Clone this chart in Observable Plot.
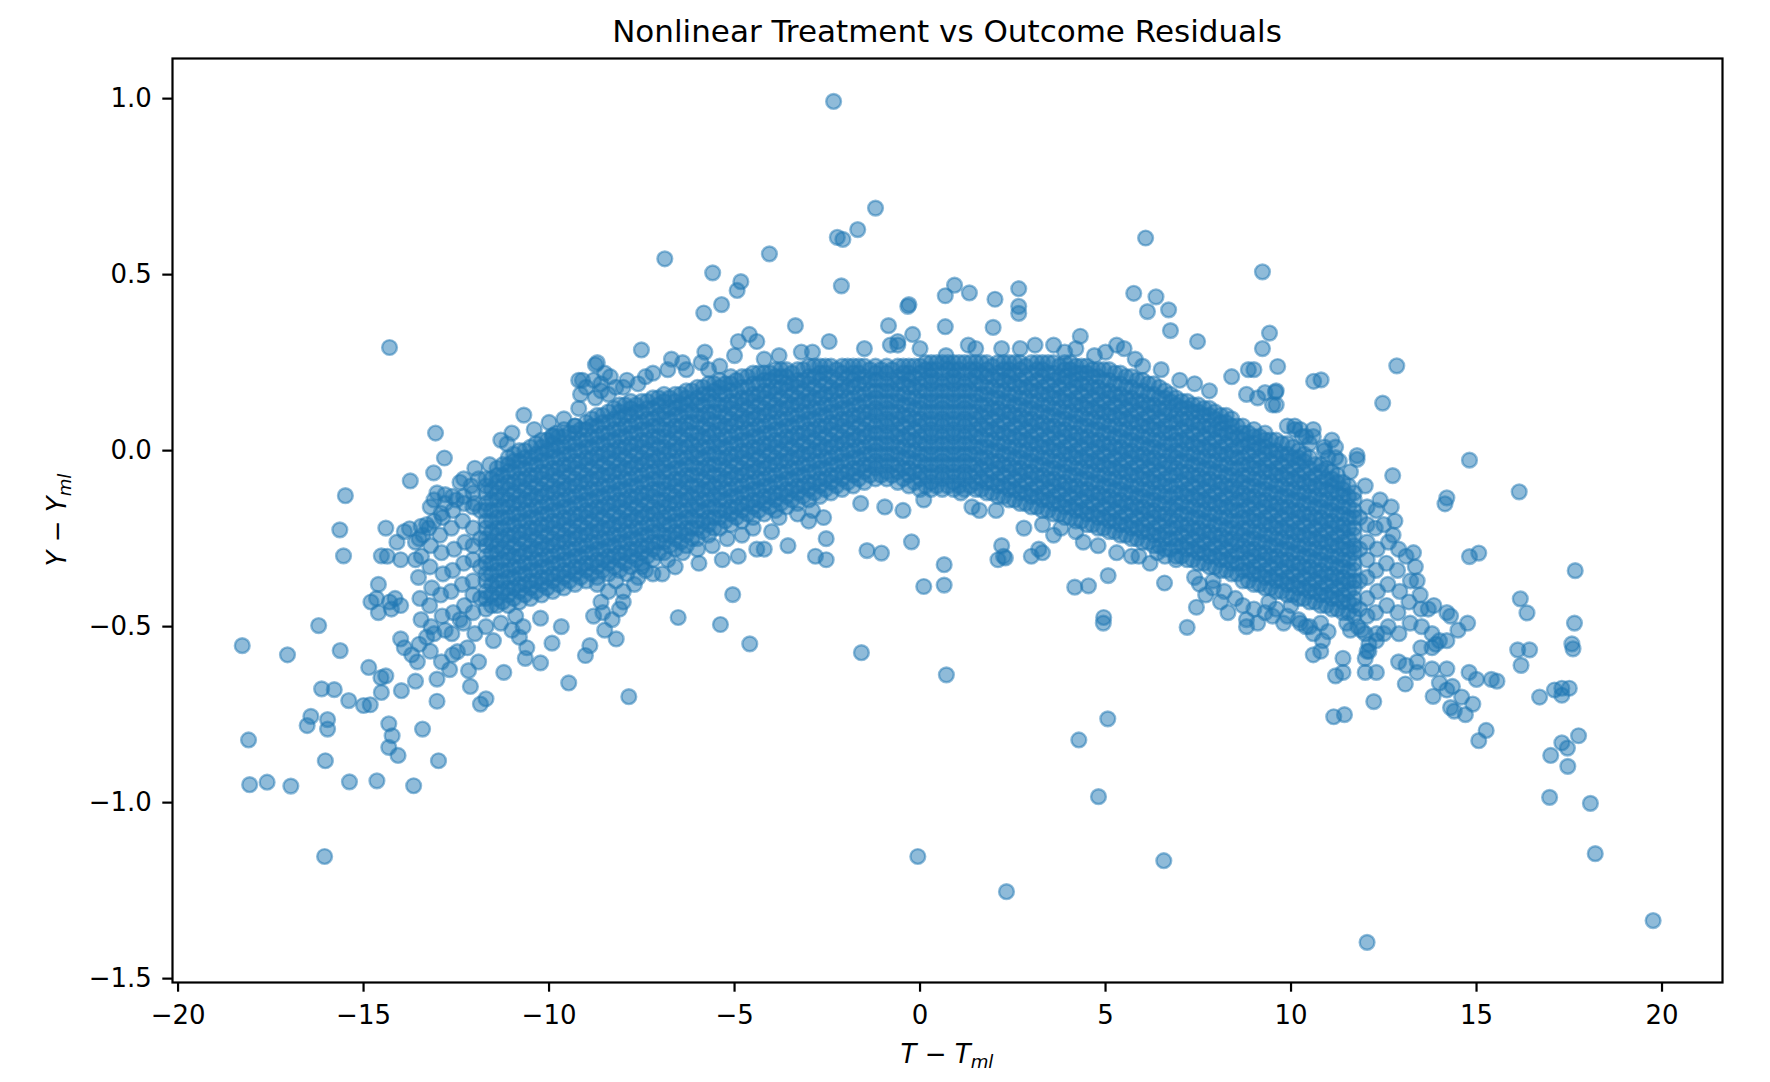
<!DOCTYPE html>
<html lang="en">
<head>
<meta charset="UTF-8">
<title>Nonlinear Treatment vs Outcome Residuals</title>
<style>
  body { margin: 0; background: #ffffff; font-family: 'DejaVu Sans', sans-serif; }
  #figure { position: relative; width: 1770px; height: 1082px; overflow: hidden; }
  #title { position: absolute; left: 172px; width: 1550px; top: 16px; text-align: center; font-size: 31px; line-height: 1; color: #000; }
  #chart { position: absolute; left: 0; top: 56px; }
  .xlabel { position: absolute; left: 172px; width: 1550px; top: 1041px; text-align: center; font-size: 26px; line-height: 1; }
  .ylabel { position: absolute; left: -143px; top: 507px; width: 400px; height: 26px; text-align: center; font-size: 26px; line-height: 26px; transform: rotate(-90deg); }
  .ylabel i, .xlabel i { font-style: italic; }
  .sub { font-size: 0.7em; vertical-align: -0.25em; font-style: italic; }
</style>
</head>
<body>
<div id="figure">
  <div id="title">Nonlinear Treatment vs Outcome Residuals</div>
  <div id="chart"></div>
  <div class="xlabel"><i>T</i> − <i>T</i><span class="sub">ml</span></div>
  <div class="ylabel"><i>Y</i> − <i>Y</i><span class="sub">ml</span></div>
</div>

<script src="https://cdn.jsdelivr.net/npm/d3@7"></script>
<script src="https://cdn.jsdelivr.net/npm/@observablehq/plot@0.6"></script>
<script>
// tick values
const xTicks = [-20, -15, -10, -5, 0, 5, 10, 15, 20];
const yTicks = [-1.5, -1.0, -0.5, 0.0, 0.5, 1.0];

// saturated centre of the cloud, read column by column (y in hundredths)
const coreT = [-12.05, -11.7, -11.4, -11.1, -10.8, -10.5, -10.2, -9.9, -9.6, -9.3, -9.0, -8.7, -8.4, -8.1,
  -7.8, -7.5, -7.2, -6.9, -6.6, -6.3, -6.0, -5.7, -5.4, -5.1, -4.8, -4.5, -4.2, -3.9, -3.6, -3.3, -3.0,
  -2.7, -2.4, -2.1, -1.8, -1.5, -1.2, -0.9, -0.6, -0.3, 0.0, 0.3, 0.6, 0.9, 1.2, 1.5, 1.8, 2.1, 2.4, 2.7,
  3.0, 3.3, 3.6, 3.9, 4.2, 4.5, 4.8, 5.1, 5.4, 5.7, 6.0, 6.3, 6.6, 6.9, 7.2, 7.5, 7.8, 8.1, 8.4, 8.7, 9.0,
  9.3, 9.6, 9.9, 10.2, 10.5, 10.8, 11.1, 11.4, 11.7, 12.05];
const coreY = [
  [-46,-41,-37,-31,-27,-22,-16,-12],
  [-45,-42,-40,-37,-35,-32,-30,-27,-25,-22,-20,-17,-15,-12,-10,-8],
  [-44,-42,-39,-37,-34,-32,-29,-27,-24,-22,-19,-17,-14,-12,-9,-7,-5],
  [-44,-41,-39,-36,-34,-31,-29,-26,-24,-21,-19,-16,-14,-11,-9,-6,-4,-2],
  [-43,-40,-38,-35,-33,-30,-28,-25,-23,-20,-18,-15,-13,-10,-8,-5,-3,0],
  [-42,-39,-37,-34,-32,-29,-27,-24,-22,-19,-17,-14,-12,-9,-7,-4,-2,1],
  [-41,-38,-36,-33,-31,-28,-26,-23,-21,-18,-16,-13,-11,-8,-6,-3,-1,1,3],
  [-40,-37,-35,-32,-30,-27,-25,-22,-20,-17,-15,-12,-10,-7,-5,-2,0,2,4],
  [-39,-36,-34,-31,-29,-26,-24,-21,-19,-16,-14,-11,-9,-6,-4,-1,1,4,6],
  [-38,-35,-33,-30,-28,-25,-23,-20,-18,-15,-13,-10,-8,-5,-3,0,2,5,7],
  [-37,-34,-32,-29,-27,-24,-22,-19,-17,-14,-12,-9,-7,-4,-2,1,3,6,8],
  [-36,-33,-31,-28,-26,-23,-21,-18,-16,-13,-11,-8,-6,-3,-1,2,4,7,10],
  [-35,-32,-30,-27,-25,-22,-20,-17,-15,-12,-10,-7,-5,-2,0,3,5,8,11],
  [-34,-31,-29,-26,-24,-21,-19,-16,-14,-11,-9,-6,-4,-1,1,4,6,9,11,13],
  [-33,-30,-28,-25,-23,-20,-18,-15,-13,-10,-8,-5,-3,0,2,5,7,10,12,14],
  [-32,-29,-27,-24,-22,-19,-17,-14,-12,-9,-7,-4,-2,1,3,6,8,11,14],
  [-31,-28,-26,-23,-21,-18,-16,-13,-11,-8,-6,-3,-1,2,4,7,9,12,15],
  [-29,-26,-24,-21,-19,-16,-14,-11,-9,-6,-4,-1,1,4,6,9,11,14,16],
  [-28,-25,-23,-20,-18,-15,-13,-10,-8,-5,-3,0,2,5,7,10,12,14,16],
  [-27,-24,-22,-19,-17,-14,-12,-9,-7,-4,-2,1,3,6,8,11,13,15,17],
  [-25,-22,-20,-17,-15,-12,-10,-7,-5,-2,0,3,5,8,10,13,15,18],
  [-24,-21,-19,-16,-14,-11,-9,-6,-4,-1,1,4,6,9,11,14,16,19],
  [-22,-19,-17,-14,-12,-9,-7,-4,-2,1,3,6,8,11,13,16,18,20],
  [-21,-18,-16,-13,-11,-8,-6,-3,-1,2,4,7,9,12,14,17,19,21],
  [-20,-17,-15,-12,-10,-7,-5,-2,0,3,5,8,10,13,15,18,21],
  [-19,-16,-14,-11,-9,-6,-4,-1,1,4,6,9,11,14,16,19,22],
  [-18,-15,-13,-10,-8,-5,-3,0,2,5,7,10,12,15,17,20,22],
  [-17,-14,-12,-9,-7,-4,-2,1,3,6,8,11,13,16,18,21,23],
  [-16,-13,-11,-8,-6,-3,-1,2,4,7,9,12,14,17,19,21,23],
  [-15,-12,-10,-7,-5,-2,0,3,5,8,10,13,15,18,20,23],
  [-14,-11,-9,-6,-4,-1,1,4,6,9,11,14,16,19,21,24],
  [-13,-10,-8,-5,-3,0,2,5,7,10,12,15,17,20,22,24],
  [-12,-9,-7,-4,-2,1,3,6,8,11,13,16,18,21,24],
  [-11,-8,-6,-3,-1,2,4,7,9,12,14,17,19,22,24],
  [-10,-7,-5,-2,0,3,5,8,10,13,15,18,20,22,24],
  [-9,-6,-4,-1,1,4,6,9,11,14,16,19,21,24],
  [-8,-5,-3,0,2,5,7,10,12,15,17,20,22,24],
  [-8,-6,-3,-1,2,4,7,9,12,14,17,19,22,24],
  [-9,-6,-4,-1,1,4,6,9,11,14,16,19,21,24],
  [-10,-7,-5,-2,0,3,5,8,10,13,15,18,20,22,24],
  [-11,-8,-6,-3,-1,2,4,7,9,12,14,17,19,22,24],
  [-11,-9,-6,-4,-1,1,4,6,9,11,14,16,19,21,23,25],
  [-11,-8,-6,-3,-1,2,4,7,9,12,14,17,19,22,25],
  [-11,-9,-6,-4,-1,1,4,6,9,11,14,16,19,21,23,25],
  [-11,-8,-6,-3,-1,2,4,7,9,12,14,17,19,22,25],
  [-11,-9,-6,-4,-1,1,4,6,9,11,14,16,19,21,23,25],
  [-12,-9,-7,-4,-2,1,3,6,8,11,13,16,18,21,23,25],
  [-13,-10,-8,-5,-3,0,2,5,7,10,12,15,17,20,22,25],
  [-14,-11,-9,-6,-4,-1,1,4,6,9,11,14,16,19,21,23,25],
  [-15,-12,-10,-7,-5,-2,0,3,5,8,10,13,15,18,20,23,25],
  [-16,-13,-11,-8,-6,-3,-1,2,4,7,9,12,14,17,19,22,25],
  [-17,-14,-12,-9,-7,-4,-2,1,3,6,8,11,13,16,18,21,23,25],
  [-18,-15,-13,-10,-8,-5,-3,0,2,5,7,10,12,15,17,20,22,25],
  [-19,-16,-14,-11,-9,-6,-4,-1,1,4,6,9,11,14,16,19,21,23,25],
  [-20,-17,-15,-12,-10,-7,-5,-2,0,3,5,8,10,13,15,18,20,22,24],
  [-21,-18,-16,-13,-11,-8,-6,-3,-1,2,4,7,9,12,14,17,19,22,24],
  [-22,-19,-17,-14,-12,-9,-7,-4,-2,1,3,6,8,11,13,16,18,21,23],
  [-23,-20,-18,-15,-13,-10,-8,-5,-3,0,2,5,7,10,12,15,17,20,23],
  [-24,-21,-19,-16,-14,-11,-9,-6,-4,-1,1,4,6,9,11,14,16,19,22],
  [-25,-22,-20,-17,-15,-12,-10,-7,-5,-2,0,3,5,8,10,13,15,18,21],
  [-26,-23,-21,-18,-16,-13,-11,-8,-6,-3,-1,2,4,7,9,12,14,17,20],
  [-27,-24,-22,-19,-17,-14,-12,-9,-7,-4,-2,1,3,6,8,11,13,16,19],
  [-28,-25,-23,-20,-18,-15,-13,-10,-8,-5,-3,0,2,5,7,10,12,15,17],
  [-30,-27,-25,-22,-20,-17,-15,-12,-10,-7,-5,-2,0,3,5,8,10,13,15],
  [-31,-28,-26,-23,-21,-18,-16,-13,-11,-8,-6,-3,-1,2,4,7,9,12,14],
  [-32,-29,-27,-24,-22,-19,-17,-14,-12,-9,-7,-4,-2,1,3,6,8,11,13],
  [-33,-30,-28,-25,-23,-20,-18,-15,-13,-10,-8,-5,-3,0,2,5,7,10,12],
  [-34,-31,-29,-26,-24,-21,-19,-16,-14,-11,-9,-6,-4,-1,1,4,6,8,10],
  [-35,-32,-30,-27,-25,-22,-20,-17,-15,-12,-10,-7,-5,-2,0,3,5,7,9],
  [-37,-34,-32,-29,-27,-24,-22,-19,-17,-14,-12,-9,-7,-4,-2,1,3,5,7],
  [-38,-35,-33,-30,-28,-25,-23,-20,-18,-15,-13,-10,-8,-5,-3,0,2,4,6],
  [-39,-36,-34,-31,-29,-26,-24,-21,-19,-16,-14,-11,-9,-6,-4,-1,1,3,5],
  [-40,-37,-35,-32,-30,-27,-25,-22,-20,-17,-15,-12,-10,-7,-5,-2,0,3],
  [-41,-38,-36,-33,-31,-28,-26,-23,-21,-18,-16,-13,-11,-8,-6,-3,-1,2],
  [-42,-39,-37,-34,-32,-29,-27,-24,-22,-19,-17,-14,-12,-9,-7,-4,-2,0],
  [-43,-40,-38,-35,-33,-30,-28,-25,-23,-20,-18,-15,-13,-10,-8,-5,-2],
  [-44,-41,-39,-36,-34,-31,-29,-26,-24,-21,-19,-16,-14,-11,-9,-6,-4],
  [-45,-42,-40,-37,-35,-32,-30,-27,-25,-22,-20,-17,-15,-12,-10,-8,-6],
  [-46,-43,-41,-38,-36,-33,-31,-28,-26,-23,-21,-18,-16,-13,-11,-9],
  [-47,-44,-42,-39,-37,-34,-32,-29,-27,-24,-22,-19,-17,-14,-12],
  [-47,-42,-36,-31,-26,-21,-16]
];

// second pass of the centre, columns lying between the first ones (y in hundredths)
const midT = [-11.85, -11.55, -11.25, -10.95, -10.65, -10.35, -10.05, -9.75, -9.45, -9.15, -8.85, -8.55,
  -8.25, -7.95, -7.65, -7.35, -7.05, -6.75, -6.45, -6.15, -5.85, -5.55, -5.25, -4.95, -4.65, -4.35, -4.05,
  -3.75, -3.45, -3.15, -2.85, -2.55, -2.25, -1.95, -1.65, -1.35, -1.05, -0.75, -0.45, -0.15, 0.15, 0.45,
  0.75, 1.05, 1.35, 1.65, 1.95, 2.25, 2.55, 2.85, 3.15, 3.45, 3.75, 4.05, 4.35, 4.65, 4.95, 5.25, 5.55,
  5.85, 6.15, 6.45, 6.75, 7.05, 7.35, 7.65, 7.95, 8.25, 8.55, 8.85, 9.15, 9.45, 9.75, 10.05, 10.35, 10.65,
  10.95, 11.25, 11.55, 11.85];
const midY = [
  [-42,-33,-25,-17],
  [-44,-41,-38,-35,-32,-29,-26,-23,-20,-17,-14,-11,-8],
  [-43,-40,-37,-34,-31,-28,-25,-22,-19,-16,-13,-10,-7,-4],
  [-42,-39,-36,-33,-30,-27,-24,-21,-18,-15,-12,-9,-6,-3,-1],
  [-41,-38,-35,-32,-29,-26,-23,-20,-17,-14,-11,-8,-5,-2,0],
  [-40,-37,-34,-31,-28,-25,-22,-19,-16,-13,-10,-7,-4,-1,2],
  [-39,-36,-33,-30,-27,-24,-21,-18,-15,-12,-9,-6,-3,0,3],
  [-38,-35,-32,-29,-26,-23,-20,-17,-14,-11,-8,-5,-2,1,4],
  [-37,-34,-31,-28,-25,-22,-19,-16,-13,-10,-7,-4,-1,2,5],
  [-36,-33,-30,-27,-24,-21,-18,-15,-12,-9,-6,-3,0,3,6],
  [-35,-32,-29,-26,-23,-20,-17,-14,-11,-8,-5,-2,1,4,7,9],
  [-34,-31,-28,-25,-22,-19,-16,-13,-10,-7,-4,-1,2,5,8,10],
  [-33,-30,-27,-24,-21,-18,-15,-12,-9,-6,-3,0,3,6,9,12],
  [-32,-29,-26,-23,-20,-17,-14,-11,-8,-5,-2,1,4,7,10,13],
  [-31,-28,-25,-22,-19,-16,-13,-10,-7,-4,-1,2,5,8,11,13],
  [-30,-27,-24,-21,-18,-15,-12,-9,-6,-3,0,3,6,9,12,14],
  [-29,-26,-23,-20,-17,-14,-11,-8,-5,-2,1,4,7,10,13,15],
  [-27,-24,-21,-18,-15,-12,-9,-6,-3,0,3,6,9,12,15],
  [-26,-23,-20,-17,-14,-11,-8,-5,-2,1,4,7,10,13,16],
  [-25,-22,-19,-16,-13,-10,-7,-4,-1,2,5,8,11,14,17],
  [-23,-20,-17,-14,-11,-8,-5,-2,1,4,7,10,13,16,18],
  [-22,-19,-16,-13,-10,-7,-4,-1,2,5,8,11,14,17,19],
  [-20,-17,-14,-11,-8,-5,-2,1,4,7,10,13,16,19],
  [-19,-16,-13,-10,-7,-4,-1,2,5,8,11,14,17,20],
  [-18,-15,-12,-9,-6,-3,0,3,6,9,12,15,18,21],
  [-17,-14,-11,-8,-5,-2,1,4,7,10,13,16,19,22],
  [-16,-13,-10,-7,-4,-1,2,5,8,11,14,17,20,22],
  [-15,-12,-9,-6,-3,0,3,6,9,12,15,18,21,23],
  [-14,-11,-8,-5,-2,1,4,7,10,13,16,19,22],
  [-13,-10,-7,-4,-1,2,5,8,11,14,17,20,23],
  [-12,-9,-6,-3,0,3,6,9,12,15,18,21,24],
  [-11,-8,-5,-2,1,4,7,10,13,16,19,22,24],
  [-10,-7,-4,-1,2,5,8,11,14,17,20,23],
  [-9,-6,-3,0,3,6,9,12,15,18,21,24],
  [-8,-5,-2,1,4,7,10,13,16,19,22,24],
  [-7,-4,-1,2,5,8,11,14,17,20,23],
  [-7,-4,-1,2,5,8,11,14,17,20,23],
  [-7,-4,-1,2,5,8,11,14,17,20,23],
  [-8,-5,-2,1,4,7,10,13,16,19,22,24],
  [-9,-6,-3,0,3,6,9,12,15,18,21,24],
  [-10,-7,-4,-1,2,5,8,11,14,17,20,23,25],
  [-10,-7,-4,-1,2,5,8,11,14,17,20,23,25],
  [-10,-7,-4,-1,2,5,8,11,14,17,20,23,25],
  [-10,-7,-4,-1,2,5,8,11,14,17,20,23,25],
  [-10,-7,-4,-1,2,5,8,11,14,17,20,23,25],
  [-11,-8,-5,-2,1,4,7,10,13,16,19,22,25],
  [-12,-9,-6,-3,0,3,6,9,12,15,18,21,24],
  [-13,-10,-7,-4,-1,2,5,8,11,14,17,20,23,25],
  [-14,-11,-8,-5,-2,1,4,7,10,13,16,19,22,25],
  [-15,-12,-9,-6,-3,0,3,6,9,12,15,18,21,24],
  [-16,-13,-10,-7,-4,-1,2,5,8,11,14,17,20,23,25],
  [-17,-14,-11,-8,-5,-2,1,4,7,10,13,16,19,22,25],
  [-18,-15,-12,-9,-6,-3,0,3,6,9,12,15,18,21,24],
  [-19,-16,-13,-10,-7,-4,-1,2,5,8,11,14,17,20,23,25],
  [-20,-17,-14,-11,-8,-5,-2,1,4,7,10,13,16,19,22,24],
  [-21,-18,-15,-12,-9,-6,-3,0,3,6,9,12,15,18,21,23],
  [-22,-19,-16,-13,-10,-7,-4,-1,2,5,8,11,14,17,20,23],
  [-23,-20,-17,-14,-11,-8,-5,-2,1,4,7,10,13,16,19,22],
  [-24,-21,-18,-15,-12,-9,-6,-3,0,3,6,9,12,15,18,21],
  [-25,-22,-19,-16,-13,-10,-7,-4,-1,2,5,8,11,14,17,20],
  [-26,-23,-20,-17,-14,-11,-8,-5,-2,1,4,7,10,13,16,19],
  [-27,-24,-21,-18,-15,-12,-9,-6,-3,0,3,6,9,12,15,18],
  [-28,-25,-22,-19,-16,-13,-10,-7,-4,-1,2,5,8,11,14,16],
  [-30,-27,-24,-21,-18,-15,-12,-9,-6,-3,0,3,6,9,12,14],
  [-31,-28,-25,-22,-19,-16,-13,-10,-7,-4,-1,2,5,8,11,13],
  [-32,-29,-26,-23,-20,-17,-14,-11,-8,-5,-2,1,4,7,10,12],
  [-33,-30,-27,-24,-21,-18,-15,-12,-9,-6,-3,0,3,6,9,11],
  [-34,-31,-28,-25,-22,-19,-16,-13,-10,-7,-4,-1,2,5,8,10],
  [-35,-32,-29,-26,-23,-20,-17,-14,-11,-8,-5,-2,1,4,7],
  [-37,-34,-31,-28,-25,-22,-19,-16,-13,-10,-7,-4,-1,2,5],
  [-38,-35,-32,-29,-26,-23,-20,-17,-14,-11,-8,-5,-2,1,4],
  [-39,-36,-33,-30,-27,-24,-21,-18,-15,-12,-9,-6,-3,0,3],
  [-40,-37,-34,-31,-28,-25,-22,-19,-16,-13,-10,-7,-4,-1,2],
  [-41,-38,-35,-32,-29,-26,-23,-20,-17,-14,-11,-8,-5,-2,1],
  [-42,-39,-36,-33,-30,-27,-24,-21,-18,-15,-12,-9,-6,-3,-1],
  [-43,-40,-37,-34,-31,-28,-25,-22,-19,-16,-13,-10,-7,-4],
  [-44,-41,-38,-35,-32,-29,-26,-23,-20,-17,-14,-11,-8,-5],
  [-45,-42,-39,-36,-33,-30,-27,-24,-21,-18,-15,-12,-9,-7],
  [-46,-43,-40,-37,-34,-31,-28,-25,-22,-19,-16,-13,-10],
  [-45,-37,-28,-19]
];

// left tail and left shoulder of the cloud [T - T_ml, Y - Y_ml]
const leftTail = [
  [-18.27,-0.554],[-18.10,-0.822],[-18.07,-0.949],[-17.60,-0.942],[-16.96,-0.953],[-17.05,-0.580],
  [-16.21,-0.497],[-15.63,-0.568],[-15.49,-0.128],[-15.64,-0.225],[-15.54,-0.299],[-16.42,-0.755],
  [-16.52,-0.781],[-15.97,-0.764],[-15.97,-0.791],[-16.03,-0.881],[-16.13,-0.677],[-15.79,-0.679],
  [-15.40,-0.710],[-15.00,-0.724],[-14.82,-0.722],[-15.38,-0.941],[-14.64,-0.938],[-13.65,-0.952],
  [-12.98,-0.881],[-13.41,-0.791],[-14.32,-0.776],[-14.23,-0.810],[-14.32,-0.843],[-14.07,-0.866],
  [-13.02,-0.712],[-14.86,-0.616],[-14.53,-0.645],[-14.40,-0.640],[-14.52,-0.687],[-13.98,-0.682],
  [-13.60,-0.655],[-13.02,-0.649],[-12.68,-0.622],[-12.47,-0.571],[-12.17,-0.625],[-12.12,-0.670],
  [-11.85,-0.720],[-11.70,-0.705],[-11.22,-0.630],[-16.05,-1.153],[-14.30,0.293],
  [-14.00,-0.535],[-13.90,-0.560],[-13.70,-0.580],[-13.50,-0.550],[-13.30,-0.530],[-13.55,-0.600],
  [-13.20,-0.570],[-12.90,-0.600],[-13.10,-0.520],
  [-13.06,0.050],[-12.82,-0.021],[-13.11,-0.063],[-13.74,-0.086],[-13.02,-0.120],[-12.91,-0.178],
  [-12.80,-0.125],[-12.60,-0.130],[-13.76,-0.222],[-13.30,-0.210],[-13.10,-0.200],[-13.45,-0.215],
  [-14.52,-0.299],[-14.36,-0.300],[-14.00,-0.310],[-13.60,-0.310],[-14.60,-0.380],[-14.65,-0.420],
  [-14.80,-0.430],[-14.60,-0.460],[-14.30,-0.430],[-14.25,-0.450],[-14.00,-0.440],[-14.15,-0.420],
  [-12.40,-0.090],[-12.10,-0.100],[-11.90,-0.080],[-12.30,-0.130],[-13.10,-0.140],[-13.20,-0.160],
  [-12.80,-0.150],[-12.50,-0.140],[-12.00,-0.150],[-14.40,-0.220],[-13.90,-0.230],[-14.10,-0.260],
  [-13.60,-0.260],[-13.40,-0.240],[-12.00,-0.050],[-11.60,-0.040],[-12.30,-0.080],
  [-13.45,-0.48],[-13.48,-0.42],[-13.52,-0.36],[-13.44,-0.30],[-13.50,-0.25],
  [-13.18,-0.50],[-13.22,-0.44],[-13.16,-0.39],[-13.21,-0.33],[-13.19,-0.27],[-13.24,-0.22],
  [-12.88,-0.47],[-12.92,-0.41],[-12.86,-0.35],[-12.90,-0.29],[-12.94,-0.24],[-12.87,-0.19],
  [-12.62,-0.52],[-12.58,-0.46],[-12.64,-0.40],[-12.60,-0.34],[-12.56,-0.28],[-12.63,-0.22],[-12.59,-0.17],
  [-12.31,-0.49],[-12.28,-0.44],[-12.34,-0.38],[-12.30,-0.32],[-12.27,-0.26],[-12.33,-0.20],[-12.29,-0.15],
  [-12.40,-0.48],[-12.00,-0.52],[-11.70,-0.50],[-11.50,-0.54],[-12.20,-0.56],[-11.90,-0.60],
  [-11.30,-0.49],[-10.90,-0.47],[-11.00,-0.51],[-12.80,-0.51],[-12.60,-0.58],
  [-9.47,-0.660],[-9.02,-0.582],[-9.92,-0.547],[-10.23,-0.603],[-10.64,-0.590],[-10.70,-0.500],
  [-10.80,-0.530],[-10.60,-0.560],[-9.67,-0.500],[-10.23,-0.476]
];

// points above the arch
const upperFringe = [
  [-10.68,0.101],[-11.13,0.019],[-9.91,0.043],[-9.80,0.050],[-9.30,0.070],[-9.20,0.120],[-9.15,0.160],
  [-9.10,0.200],[-11.30,0.030],[-11.00,0.050],[-10.40,0.060],[-10.00,0.080],[-9.60,0.090],
  [-8.70,0.250],[-8.50,0.220],[-8.60,0.190],[-8.35,0.210],[-8.75,0.150],[-8.40,0.160],[-8.00,0.180],
  [-2.33,0.992],[-1.20,0.689],[-1.68,0.628],[-2.23,0.606],[-2.08,0.600],[-4.06,0.559],[-6.88,0.545],
  [-5.59,0.505],[-4.83,0.480],[-4.93,0.455],[-2.12,0.468],[-5.35,0.415],[-5.83,0.391],[-0.33,0.410],
  [-0.30,0.415],[0.68,0.440],[0.93,0.470],[-3.36,0.355],[-0.85,0.355],[0.68,0.352],[-7.51,0.286],
  [-8.75,0.244],[-9.20,0.200],[-8.80,0.200],[-8.60,0.170],[-9.00,0.180],
  [-4.60,0.330],[-4.90,0.310],[-4.40,0.310],[-2.45,0.310],[-0.20,0.330],[-0.60,0.310],
  [-5.80,0.280],[-5.00,0.270],[-3.20,0.280],[-2.90,0.280],[-4.20,0.260],[-0.80,0.300],[-0.60,0.300],
  [0.70,0.270],[1.30,0.300],[-6.70,0.260],[-6.40,0.250],[-6.30,0.230],[-5.70,0.230],[-5.40,0.240],
  [-5.90,0.250],[-7.40,0.210],[-7.20,0.220],[-6.80,0.230],[-7.90,0.200],[-7.60,0.190],[-8.20,0.180],
  [6.08,0.604],[9.23,0.508],[5.76,0.447],[6.36,0.437],[6.13,0.395],[6.70,0.400],[6.75,0.341],
  [7.48,0.310],[9.42,0.334],[2.66,0.460],[2.66,0.410],[2.66,0.390],[1.33,0.448],[2.02,0.430],
  [1.97,0.350],[4.32,0.325],[9.23,0.290],[9.64,0.239],[8.85,0.230],[9.00,0.230],[10.61,0.197],
  [10.81,0.201],[8.40,0.210],[5.00,0.280],[5.80,0.260],[6.00,0.240],[9.60,0.170],[9.30,0.165],
  [9.60,0.130],[10.60,0.060],[11.10,0.030],
  [3.10,0.300],[3.60,0.300],[2.70,0.290],[1.50,0.290],[5.30,0.300],[5.50,0.290],[4.70,0.270],
  [8.80,0.160],[9.10,0.150],[9.50,0.130],[9.58,0.166],[9.90,0.070],[10.10,0.060],[10.30,0.040],
  [10.50,0.020],[10.90,0.010],[11.20,-0.020],[7.00,0.200],[7.40,0.190],[7.80,0.170],[6.50,0.230],
  [0.00,0.290],[-1.50,0.290],[-3.80,0.270],[2.20,0.290],[3.90,0.280],[4.20,0.290]
];

// points below the arch
const lowerFringe = [
  [-0.06,-1.153],[-7.85,-0.699],[0.71,-0.637],[-1.58,-0.574],[-4.59,-0.549],[-5.38,-0.494],
  [-6.52,-0.474],[-8.19,-0.535],[-8.90,-0.554],[-5.05,-0.409],[0.10,-0.386],[0.65,-0.382],
  [0.65,-0.324],[-0.23,-0.259],[-1.43,-0.284],[-1.04,-0.291],[-2.53,-0.250],[-2.82,-0.300],
  [-2.53,-0.310],[-3.56,-0.270],[-4.00,-0.230],[-4.90,-0.300],[-5.33,-0.310],[-4.40,-0.280],
  [-4.20,-0.280],[-5.96,-0.320],[-6.60,-0.330],[-8.00,-0.400],[-8.10,-0.450],[-8.60,-0.430],
  [-8.55,-0.460],[-8.80,-0.470],[-7.60,-0.360],[-7.40,-0.340],[-6.95,-0.350],[-1.60,-0.150],
  [-0.95,-0.160],[-0.46,-0.170],[-3.00,-0.200],[-2.60,-0.190],[-2.90,-0.170],[0.10,-0.140],
  [1.10,-0.120],[1.60,-0.170],[1.40,-0.160],
  [2.33,-1.253],[6.57,-1.165],[4.81,-0.983],[4.28,-0.822],[5.06,-0.762],[4.95,-0.474],[4.94,-0.490],
  [7.20,-0.502],[7.45,-0.445],[7.53,-0.379],[6.59,-0.376],[5.07,-0.355],[4.17,-0.388],[4.54,-0.384],
  [3.00,-0.300],[3.30,-0.290],[3.20,-0.280],[2.20,-0.270],[2.25,-0.300],[2.10,-0.310],[2.30,-0.305],
  [2.80,-0.220],[3.30,-0.210],[3.80,-0.220],[4.20,-0.230],[2.05,-0.170],[5.30,-0.290],[5.70,-0.300],
  [6.40,-0.290],[6.60,-0.300],[6.90,-0.310],[7.70,-0.410],[7.90,-0.390],[8.30,-0.460],[8.80,-0.500],
  [8.80,-0.480],[9.50,-0.470],[9.80,-0.490],[10.40,-0.500],[10.80,-0.490],[10.85,-0.540],
  [10.60,-0.580],[10.80,-0.570],[12.10,-0.570],[12.10,-0.550],[11.50,-0.490],[11.80,-0.500],[12.00,-0.520],
  [-8.70,-0.380],[-8.40,-0.400],[-8.20,-0.370],[-7.90,-0.350],[-7.70,-0.380],[-7.50,-0.330],
  [-7.20,-0.350],[-6.80,-0.310],[-6.40,-0.290],[-6.00,-0.280],[-5.60,-0.270],[-5.20,-0.250],
  [-4.80,-0.240],[-4.50,-0.220],[-3.80,-0.190],[-3.30,-0.180],[-8.50,-0.510],[-8.30,-0.480],[-8.00,-0.430],
  [7.40,-0.360],[7.90,-0.370],[8.20,-0.400],[8.50,-0.420],[8.70,-0.440],[9.00,-0.450],[9.30,-0.460],
  [9.60,-0.450],[9.90,-0.470],[10.20,-0.480],[8.10,-0.430],[9.10,-0.490],[9.40,-0.430],[10.60,-0.520],
  [10.00,-0.440],[5.90,-0.300],[6.20,-0.320],[4.80,-0.270],[4.40,-0.260],[3.60,-0.240]
];

// right shoulder and right tail
const rightTail = [
  [10.10,0.070],[10.25,0.060],[10.60,0.040],[11.20,0.010],[11.78,-0.014],[11.78,-0.025],[12.85,0.241],
  [12.47,0.135],[14.81,-0.027],[16.15,-0.117],[12.74,-0.071],[14.20,-0.134],[14.15,-0.151],[12.40,-0.140],
  [12.70,-0.160],[12.30,-0.170],[12.80,-0.200],[12.75,-0.240],[12.50,-0.210],[15.06,-0.291],[14.81,-0.301],
  [17.66,-0.341],[13.30,-0.290],[13.10,-0.300],[13.35,-0.330],[13.40,-0.370],[16.18,-0.421],[16.36,-0.461],
  [17.64,-0.490],[13.85,-0.440],[13.50,-0.450],[13.70,-0.450],[14.20,-0.460],[14.30,-0.470],[14.76,-0.490],
  [14.50,-0.510],[13.80,-0.520],[14.00,-0.540],[14.20,-0.540],[13.90,-0.550],[13.50,-0.560],[13.80,-0.560],
  [13.40,-0.600],[13.80,-0.620],[14.20,-0.620],[12.90,-0.600],[13.10,-0.610],[13.40,-0.630],[14.80,-0.630],
  [15.00,-0.650],[15.40,-0.650],[15.55,-0.655],[16.11,-0.566],[16.43,-0.566],[16.20,-0.610],[17.57,-0.549],
  [17.60,-0.563],[16.70,-0.700],[17.10,-0.680],[17.30,-0.675],[17.50,-0.675],[17.30,-0.695],[14.00,-0.660],
  [14.20,-0.680],[14.35,-0.670],[14.60,-0.700],[14.90,-0.720],[14.30,-0.730],[14.70,-0.750],[14.40,-0.740],
  [13.83,-0.698],[15.26,-0.795],[15.06,-0.824],[17.75,-0.810],[17.30,-0.830],[17.45,-0.845],[17.00,-0.866],
  [17.46,-0.897],[16.97,-0.985],[18.07,-1.002],[12.23,-0.713],[11.15,-0.756],[11.44,-0.750],[13.08,-0.663],
  [11.20,-0.640],[11.40,-0.630],[11.40,-0.590],[12.00,-0.630],[12.30,-0.630],[12.00,-0.590],[12.05,-0.570],
  [11.00,-0.514],[11.60,-0.510],[11.90,-0.510],[12.30,-0.540],[12.50,-0.520],[10.50,-0.500],[10.25,-0.490],
  [18.20,-1.145],[19.76,-1.335],[12.05,-1.397],
  [12.31,-0.52],[12.28,-0.46],[12.33,-0.40],[12.29,-0.34],[12.32,-0.28],[12.27,-0.22],
  [12.62,-0.50],[12.58,-0.44],[12.61,-0.38],[12.57,-0.32],[12.63,-0.26],
  [12.91,-0.52],[12.88,-0.46],[12.93,-0.40],[12.87,-0.34],[12.90,-0.28],
  [13.21,-0.49],[13.18,-0.43],[13.22,-0.37],[13.52,-0.50],[13.48,-0.41],
  [10.40,0.040],[10.90,0.000],[11.30,-0.030],[11.60,-0.060],[12.00,-0.100],[11.00,-0.020]
];

const points = [];
coreT.forEach((t, i) => coreY[i].forEach(v => points.push({t, y: v / 100})));
midT.forEach((t, i) => midY[i].forEach(v => points.push({t, y: v / 100})));
for (const [t, y] of [...leftTail, ...upperFringe, ...lowerFringe, ...rightTail]) points.push({t, y});

const chart = Plot.plot({
  width: 1770,
  height: 1026,
  marginLeft: 172,
  marginRight: 48,
  marginTop: 2,
  marginBottom: 100,
  style: {fontFamily: "'DejaVu Sans', sans-serif", fontSize: "26px", color: "#000", background: "#fff", overflow: "visible"},
  x: {domain: [-20.15, 21.63]},
  y: {domain: [-1.511, 1.114]},
  marks: [
    Plot.dot(points, {x: "t", y: "y", r: 7.4, fill: "#1f77b4", fillOpacity: 0.5, stroke: "#1f77b4", strokeOpacity: 0.5, strokeWidth: 2.4}),
    Plot.frame({stroke: "#000", strokeWidth: 2.2}),
    Plot.axisX({ticks: xTicks, tickFormat: d3.format("d"), tickSize: 9.7, tickPadding: 13, strokeWidth: 2.2, label: null}),
    Plot.axisY({ticks: yTicks, tickFormat: d3.format(".1f"), tickSize: 9.7, tickPadding: 11, strokeWidth: 2.2, label: null})
  ]
});
document.querySelector("#chart").append(chart);
</script>
</body>
</html>
